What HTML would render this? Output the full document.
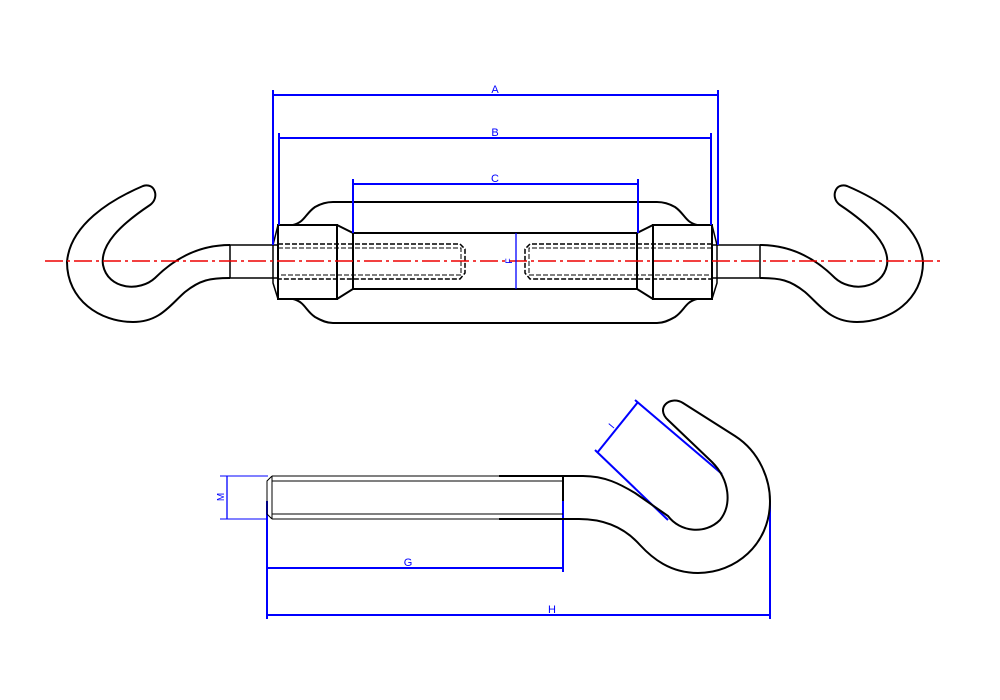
<!DOCTYPE html>
<html><head><meta charset="utf-8"><style>html,body{margin:0;padding:0;background:#fff}svg{display:block}</style></head>
<body>
<svg width="1000" height="700" viewBox="0 0 1000 700" xmlns="http://www.w3.org/2000/svg" font-family="Liberation Sans, sans-serif">
<rect width="1000" height="700" fill="#fff"/>
<g id="half" fill="none" stroke="#000" stroke-width="2">
  <path d="M230 245 C200 245 175 258 155 278 C140 292 108 290 103 265 C100 245 120 225 150 205 C160 198 155 182 143 186 C110 200 70 225 67 262 C67 300 100 322 133 322 C160 322 170 305 185 292 C200 280 210 278 230 278"/>
  <line x1="230" y1="245" x2="230" y2="278" stroke-width="1.5"/>
  <line x1="230" y1="245" x2="278" y2="245" stroke-width="1.5"/>
  <line x1="230" y1="278" x2="278" y2="278" stroke-width="1.5"/>
  <path d="M278 225 L273 245 L273 283 L278 299 Z" stroke-width="1.5"/>
  <rect x="278" y="225" width="59" height="74"/>
  <path d="M337 225 L353 233 L353 289 L337 299"/>
  <path d="M293 225 C305 222 305 214 315 207 C322 203 327 202 333 202 L495 202"/>
  <path d="M293 299 C305 302 305 310 315 317 C322 321 327 323 333 323 L495 323"/>
  <line x1="353" y1="233" x2="495" y2="233"/>
  <line x1="353" y1="289" x2="495" y2="289"/>
  <path d="M278 244 L460 244 L465 249 L465 273 L460 279 L278 279" stroke-dasharray="5 2" stroke-width="1.5"/>
  <path d="M278 248 L461 248 L461 275 L278 275" stroke-dasharray="5 2" stroke-width="1"/>
</g>
<use href="#half" transform="translate(990 0) scale(-1 1)"/>
<line x1="45" y1="261" x2="940" y2="261" stroke="#e00" stroke-width="1.6" stroke-dasharray="18 4 3 4"/>
<g stroke="#00f" stroke-width="2" fill="none">
  <line x1="273" y1="90" x2="273" y2="245"/><line x1="718" y1="90" x2="718" y2="245"/>
  <line x1="273" y1="95" x2="718" y2="95"/>
  <line x1="279" y1="133" x2="279" y2="225"/><line x1="711" y1="133" x2="711" y2="225"/>
  <line x1="279" y1="138" x2="711" y2="138"/>
  <line x1="353" y1="179" x2="353" y2="233"/><line x1="638" y1="179" x2="638" y2="233"/>
  <line x1="353" y1="184" x2="638" y2="184"/>
  <line x1="516" y1="233" x2="516" y2="289" stroke-width="1.3"/>
  <line x1="220" y1="476" x2="268" y2="476" stroke-width="1"/><line x1="220" y1="519" x2="268" y2="519" stroke-width="1"/>
  <line x1="227" y1="476" x2="227" y2="519" stroke-width="1.3"/>
  <line x1="267" y1="501" x2="267" y2="619"/>
  <line x1="563" y1="501" x2="563" y2="572"/>
  <line x1="770" y1="501" x2="770" y2="619"/>
  <line x1="267" y1="568" x2="563" y2="568"/>
  <line x1="267" y1="615" x2="770" y2="615"/>
  <line x1="597" y1="453" x2="638" y2="402"/>
  <line x1="595" y1="450" x2="668" y2="520"/>
  <line x1="635" y1="400" x2="722" y2="474"/>
</g>
<g fill="#00f" font-size="11" text-anchor="middle">
  <text x="495" y="93">A</text><text x="495" y="136">B</text><text x="495" y="182">C</text>
  <text x="408" y="566">G</text><text x="552" y="613">H</text>
  <text transform="translate(512 261) rotate(-90)" font-size="9">F</text>
  <text transform="translate(224 497) rotate(-90)" font-size="10">M</text>
  <text transform="translate(614 428) rotate(-50)" font-size="10">I</text>
</g>
<g fill="none" stroke="#000" stroke-width="1">
  <path d="M272 476 L267 481 L267 514 L272 519"/>
  <line x1="272" y1="476" x2="563" y2="476"/><line x1="272" y1="519" x2="563" y2="519"/>
  <line x1="272" y1="481" x2="563" y2="481"/><line x1="272" y1="514" x2="563" y2="514"/>
  <line x1="272" y1="476" x2="272" y2="519"/>
  <line x1="499" y1="476" x2="563" y2="476" stroke-width="2"/><line x1="499" y1="519" x2="563" y2="519" stroke-width="2"/>
  <line x1="563" y1="476" x2="563" y2="501" stroke-width="2"/>
  <path stroke-width="2" d="M563 476 L583 476 C605 476 620 484 635 493 L668 516 C680 532 705 535 720 520 C732 505 730 480 712 462 L668 420 C655 408 670 395 683 403 L735 436 C760 452 770 480 770 501 C770 545 735 573 698 573 C670 573 652 558 640 545 C625 528 605 519 579 519 L563 519"/>
</g>
</svg>
</body></html>
